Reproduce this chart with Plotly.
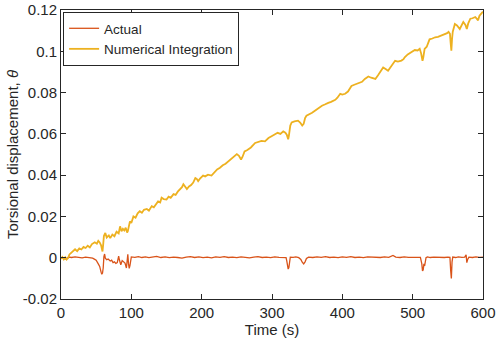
import plotly.graph_objects as go

# Actual torsional displacement (rad) vs time (s)
t_actual = [0, 3, 6, 9, 12, 15, 20, 25, 30, 35, 40, 45, 48, 50, 53, 55, 57, 58, 59, 60,
            61, 62, 63, 65, 67, 70, 72, 74, 76, 78, 80, 82, 83, 85, 87, 89, 91, 93, 94, 95,
            96, 97, 98, 99, 100, 105, 110, 115, 120, 125, 130, 136, 142, 148, 154, 160, 166,
            172, 178, 184, 190, 196, 202, 208, 214, 220, 226, 232, 238, 244, 250, 256, 262,
            268, 274, 280, 286, 292, 298, 304, 310, 316, 320, 321, 322, 323, 324, 325, 326,
            330, 334, 338, 341, 343, 345, 347, 349, 352, 358, 364, 370, 376, 382, 388, 394,
            400, 406, 412, 418, 424, 430, 436, 442, 448, 454, 460, 466, 472, 476, 482, 488,
            494, 500, 506, 511, 513, 514, 515, 516, 517, 518, 519, 521, 525, 530, 535, 540,
            545, 550, 553, 554, 555, 556, 557, 561, 565, 570, 574, 576, 577, 578, 580, 585,
            590, 595, 600]
actual = [-0.0004, -0.0001, -0.0006, 0.0000, 0.0003, 0.0001, 0.0004, 0.0002, -0.0001, 0.0003,
          0.0001, -0.0002, -0.0008, -0.0012, -0.0030, -0.0042, -0.0070, -0.0080, -0.0074, -0.0050,
          0.0005, 0.0018, -0.0002, -0.0010, -0.0006, -0.0016, -0.0012, -0.0024, -0.0020, -0.0028,
          -0.0024, 0.0008, -0.0010, -0.0034, -0.0014, -0.0018, -0.0026, -0.0050, -0.0020, 0.0016,
          -0.0030, -0.0052, -0.0038, 0.0002, 0.0004, 0.0002, 0.0005, 0.0001, 0.0004, 0.0000,
          0.0003, 0.0006, 0.0001, 0.0004, 0.0000, 0.0003, 0.0001, -0.0002, 0.0003, 0.0005,
          0.0001, 0.0004, 0.0000, 0.0003, -0.0001, 0.0004, 0.0002, 0.0005, 0.0001, 0.0003,
          0.0000, 0.0004, 0.0002, -0.0001, 0.0003, 0.0005, 0.0001, 0.0003, 0.0000, 0.0004,
          0.0002, 0.0003, 0.0001, -0.0015, -0.0040, -0.0055, -0.0048, -0.0010, 0.0003,
          0.0002, 0.0004, 0.0000, -0.0008, -0.0022, -0.0030, -0.0020, -0.0004, 0.0003, 0.0001,
          0.0004, 0.0002, 0.0005, 0.0001, 0.0003, 0.0000, 0.0004, 0.0002, 0.0005, 0.0001,
          0.0003, 0.0000, 0.0004, 0.0002, 0.0003, 0.0001, 0.0004, 0.0002, 0.0011, 0.0003,
          0.0001, 0.0004, 0.0002, 0.0003, 0.0001, 0.0002, -0.0030, -0.0064, -0.0058, -0.0030,
          -0.0040, -0.0022, 0.0000, 0.0004, 0.0001, 0.0003, 0.0002, 0.0004, 0.0001, 0.0003,
          0.0002, -0.0060, -0.0100, -0.0020, 0.0003, 0.0001, 0.0004, 0.0002, 0.0003, 0.0014,
          -0.0024, -0.0010, 0.0003, 0.0001, 0.0004, 0.0002, 0.0003]

# Numerical integration result
t_num = [0, 2, 4, 6, 8, 10, 12, 14, 17, 20, 23, 26, 29, 32, 35, 38, 41, 44, 48, 51, 53, 55,
         57, 58, 59, 60, 61, 63, 65, 68, 70, 73, 76, 79, 82, 84, 86, 88, 90, 92, 94, 95, 96,
         98, 100, 103, 106, 109, 112, 115, 118, 122, 125, 129, 132, 135, 138, 141, 143, 146,
         150, 153, 156, 160, 163, 166, 169, 172, 174, 177, 179, 182, 185, 188, 191, 193, 195,
         198, 202, 205, 209, 214, 218, 222, 226, 230, 234, 238, 242, 246, 250, 253, 256, 258,
         261, 265, 270, 276, 280, 285, 290, 295, 300, 304, 308, 312, 316, 319, 321, 323, 324,
         326, 328, 332, 337, 340, 343, 345, 347, 349, 353, 357, 361, 365, 368, 371, 375, 378,
         380, 384, 387, 390, 393, 397, 400, 404, 408, 413, 417, 421, 425, 428, 432, 437, 441,
         444, 447, 451, 455, 458, 461, 465, 469, 472, 475, 479, 484, 487, 489, 493, 497, 500,
         503, 507, 510, 512, 514, 515, 517, 520, 524, 528, 532, 536, 541, 545, 549, 551, 553,
         554, 555, 556, 557, 560, 563, 567, 570, 572, 575, 577, 579, 582, 585, 589, 591, 593,
         595, 598, 600]
numerical = [-0.0005, 0.0003, -0.0008, 0.0002, -0.0009, -0.0002, 0.0016, 0.0022, 0.0030, 0.0041,
             0.0032, 0.0045, 0.0040, 0.0052, 0.0047, 0.0058, 0.0050, 0.0066, 0.0075, 0.0068,
             0.0082, 0.0074, 0.0060, 0.0038, 0.0030, 0.0065, 0.0105, 0.0120, 0.0098, 0.0108,
             0.0095, 0.0112, 0.0104, 0.0126, 0.0118, 0.0152, 0.0128, 0.0140, 0.0132, 0.0145,
             0.0122, 0.0128, 0.0148, 0.0176, 0.0168, 0.0200, 0.0194, 0.0215, 0.0225, 0.0218,
             0.0232, 0.0236, 0.0228, 0.0250, 0.0244, 0.0262, 0.0273, 0.0268, 0.0291, 0.0284,
             0.0282, 0.0296, 0.0290, 0.0308, 0.0304, 0.0320, 0.0330, 0.0342, 0.0356, 0.0340,
             0.0333, 0.0345, 0.0352, 0.0364, 0.0386, 0.0382, 0.0371, 0.0385, 0.0398, 0.0394,
             0.0402, 0.0398, 0.0415, 0.0428, 0.0436, 0.0448, 0.0455, 0.0468, 0.0478, 0.0490,
             0.0502, 0.0494, 0.0476, 0.0488, 0.0515, 0.0522, 0.0534, 0.0556, 0.0560, 0.0566,
             0.0564, 0.0580, 0.0590, 0.0598, 0.0605, 0.0600, 0.0612, 0.0606, 0.0596, 0.0574,
             0.0590, 0.0640, 0.0655, 0.0660, 0.0664, 0.0655, 0.0640, 0.0648, 0.0676, 0.0688,
             0.0694, 0.0702, 0.0712, 0.0722, 0.0730, 0.0736, 0.0742, 0.0748, 0.0750, 0.0755,
             0.0760, 0.0765, 0.0775, 0.0794, 0.0790, 0.0794, 0.0805, 0.0832, 0.0838, 0.0842,
             0.0848, 0.0852, 0.0866, 0.0878, 0.0872, 0.0868, 0.0866, 0.0885, 0.0905, 0.0922,
             0.0915, 0.0906, 0.0925, 0.0940, 0.0954, 0.0950, 0.0955, 0.0962, 0.0972, 0.0985,
             0.0992, 0.0998, 0.1006, 0.1004, 0.1012, 0.0990, 0.0954, 0.0968, 0.1012, 0.1022,
             0.1058, 0.1062, 0.1068, 0.1070, 0.1076, 0.1082, 0.1088, 0.1094, 0.1085, 0.1040,
             0.1003, 0.1060, 0.1095, 0.1132, 0.1125, 0.1108, 0.1130, 0.1142, 0.1128, 0.1108,
             0.1135, 0.1158, 0.1160, 0.1166, 0.1158, 0.1150, 0.1172, 0.1188, 0.1192]

x_ticks = [0, 100, 200, 300, 400, 500, 600]
y_ticks = [-0.02, 0, 0.02, 0.04, 0.06, 0.08, 0.1, 0.12]
y_ticklabels = ["-0.02", "0", "0.02", "0.04", "0.06", "0.08", "0.1", "0.12"]

font_family = "Liberation Sans, Arial, sans-serif"
axis_col = "#262626"

fig = go.Figure()
fig.add_trace(go.Scatter(x=t_actual, y=actual, mode="lines", name="Actual",
                         line=dict(color="#D95319", width=1.3)))
fig.add_trace(go.Scatter(x=t_num, y=numerical, mode="lines", name="Numerical Integration",
                         line=dict(color="#EDB120", width=1.8)))

axis_common = dict(showline=True, linecolor=axis_col, linewidth=1, mirror="ticks",
                   ticks="inside", ticklen=5, tickcolor=axis_col, showgrid=False,
                   zeroline=False, automargin=False,
                   tickfont=dict(size=15, color="#262626"))

fig.update_xaxes(range=[0, 600], tickvals=x_ticks,
                 title=dict(text="Time (s)", font=dict(size=15, color="#262626"), standoff=0),
                 **axis_common)
fig.update_yaxes(range=[-0.02, 0.12], tickvals=y_ticks, ticktext=y_ticklabels,
                 title=dict(text="Torsional displacement, <i>θ</i>",
                            font=dict(size=15, color="#262626"), standoff=0),
                 **axis_common)

fig.update_layout(
    width=500, height=348,
    margin=dict(l=61, r=17, t=10, b=49),
    paper_bgcolor="white", plot_bgcolor="white",
    font=dict(family=font_family, color="#262626"),
    showlegend=True,
    legend=dict(x=0.005, y=0.993, xanchor="left", yanchor="top",
                bgcolor="white", bordercolor=axis_col, borderwidth=1,
                font=dict(size=13.5), itemwidth=30, tracegroupgap=0),
)

# default page body has an 8px margin; drop it so the figure sits at the corner
fig.write_html("out.html", config={"displayModeBar": False},
               post_script="document.body.style.margin = '0';")
